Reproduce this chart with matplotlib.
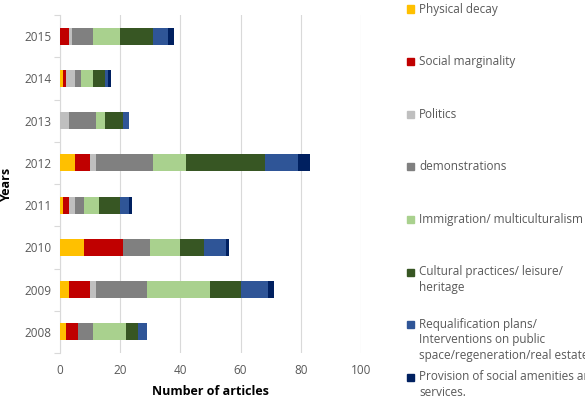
import matplotlib
matplotlib.use("Agg")
import matplotlib.pyplot as plt
from matplotlib.patches import Rectangle

years = ["2008", "2009", "2010", "2011", "2012", "2013", "2014", "2015"]
physical_decay = [2, 3, 8, 1, 5, 0, 1, 0]
social_marginality = [4, 7, 13, 2, 5, 0, 1, 3]
politics = [0, 2, 0, 2, 2, 3, 3, 1]
demonstrations = [5, 17, 9, 3, 19, 9, 2, 7]
immigration = [11, 21, 10, 5, 11, 3, 4, 9]
cultural = [4, 10, 8, 7, 26, 6, 4, 11]
requalification = [3, 9, 7, 3, 11, 2, 1, 5]
provision = [0, 2, 1, 1, 4, 0, 1, 2]

series = [physical_decay, social_marginality, politics, demonstrations,
          immigration, cultural, requalification, provision]
labels = ["Physical decay", "Social marginality", "Politics", "demonstrations",
          "Immigration/ multiculturalism", "Cultural practices/ leisure/\nheritage",
          "Requalification plans/\nInterventions on public\nspace/regeneration/real estate",
          "Provision of social amenities and\nservices."]
colors = ["#FFC000", "#C00000", "#BFBFBF", "#808080", "#A9D18E", "#375623",
          "#2F5597", "#002060"]

plt.rcParams['font.family'] = ['Open Sans', 'DejaVu Sans']
txt = "#595959"

fig = plt.figure(figsize=(5.85, 4.16), dpi=100)
ax = fig.add_axes([60/585, 1-353/416, (361-60)/585, (353-15)/416])

ypos = list(range(len(years)))
left = [0]*len(years)
for vals, c, lab in zip(series, colors, labels):
    ax.barh(ypos, vals, left=left, color=c, height=0.4, label=lab, zorder=3)
    left = [a+b for a, b in zip(left, vals)]

ax.set_xlim(0, 100)
ax.set_ylim(-0.5, len(years)-0.5)
ax.set_xticks([0, 20, 40, 60, 80, 100])
ax.set_yticks(ypos)
ax.set_yticklabels(years)
ax.set_yticks([i-0.5 for i in range(len(years)+1)], minor=True)
ax.tick_params(axis='y', which='major', length=0, pad=6, labelsize=8.5, labelcolor=txt)
ax.tick_params(axis='y', which='minor', length=4, color="#D9D9D9", width=0.8)
ax.tick_params(axis='x', length=0, pad=8, labelsize=8.5, labelcolor=txt)
ax.grid(axis='x', color="#D9D9D9", linewidth=0.8, zorder=0)
for s in ['top', 'right', 'bottom']:
    ax.spines[s].set_visible(False)
ax.spines['left'].set_color("#D9D9D9")
ax.spines['left'].set_linewidth(0.8)

ax.set_xlabel("Number of articles", fontsize=9, fontweight='bold', color="black", labelpad=6)
ax.set_ylabel("Years", fontsize=9, fontweight='bold', color="black", labelpad=8)

# legend drawn manually
y0 = 9
step = 52.6
for i, (lab, c) in enumerate(zip(labels, colors)):
    ytop = y0 + i*step
    fy = 1 - ytop/416
    fig.patches.append(Rectangle((407/585, fy - 3.5/416), 7/585, 7/416,
                                 transform=fig.transFigure, color=c, figure=fig))
    fig.text(419/585, fy, lab, fontsize=8.5, color=txt, va='top' if '\n' in lab else 'center',
             ha='left', linespacing=1.25)
# adjust multi-line: va top means first line centre should be at fy
for t in fig.texts:
    if '\n' in t.get_text():
        x, y = t.get_position()
        t.set_position((x, y + 7/416))

fig.savefig("out.png", dpi=100)
